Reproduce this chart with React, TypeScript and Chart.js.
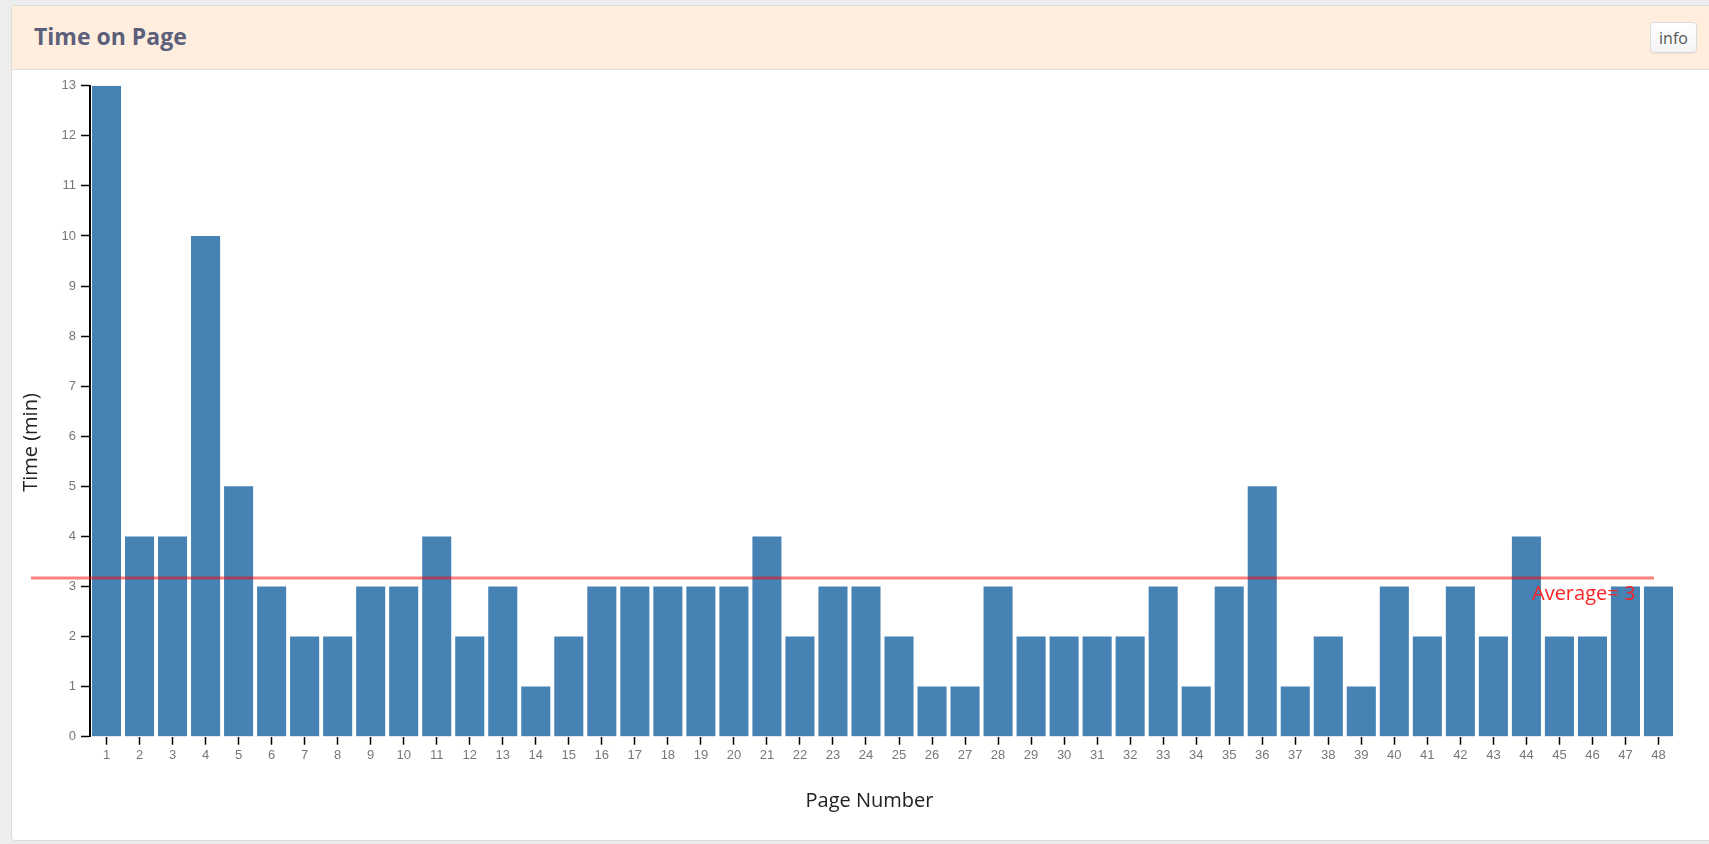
import React, { useEffect, useRef } from "react";
import { Chart, registerables } from "chart.js";

Chart.register(...registerables);

const chartTitle = "Time on Page";
const infoLabel = "info";
const xAxisTitle = "Page Number";
const yAxisTitle = "Time (min)";

const pageLabels = [
  "1", "2", "3", "4", "5", "6", "7", "8", "9", "10", "11", "12",
  "13", "14", "15", "16", "17", "18", "19", "20", "21", "22", "23", "24",
  "25", "26", "27", "28", "29", "30", "31", "32", "33", "34", "35", "36",
  "37", "38", "39", "40", "41", "42", "43", "44", "45", "46", "47", "48",
];

const timeMinutes = [
  13, 4, 4, 10, 5, 3, 2, 2, 3, 3, 4, 2,
  3, 1, 2, 3, 3, 3, 3, 3, 4, 2, 3, 3,
  2, 1, 1, 3, 2, 2, 2, 2, 3, 1, 3, 5,
  1, 2, 1, 3, 2, 3, 2, 4, 2, 2, 3, 3,
];

const yMin = 0;
const yMax = 13;
const yStep = 1;

const averageLineValue = 3.17;
const averageLabel = "Average= 3";

const W = 1709;
const H = 844;

const overlayPlugin = {
  id: "overlay",
  afterDatasetsDraw(chart: any) {
    const { ctx, chartArea, scales } = chart;
    const yy = scales.y.getPixelForValue(averageLineValue);
    ctx.save();
    // average line
    ctx.strokeStyle = "rgba(255,0,0,0.5)";
    ctx.lineWidth = 3;
    ctx.beginPath();
    ctx.moveTo(chartArea.left - 59, yy);
    ctx.lineTo(chartArea.right - 21, yy);
    ctx.stroke();
    // average label
    ctx.fillStyle = "#ff2222";
    ctx.font = '20px "Open Sans"';
    ctx.textAlign = "left";
    ctx.textBaseline = "alphabetic";
    ctx.fillText(averageLabel, chartArea.right - 143, yy + 22);
    // axis titles
    ctx.fillStyle = "#222";
    ctx.font = '20px "Open Sans"';
    ctx.textAlign = "center";
    ctx.fillText(xAxisTitle, 869.5, 807);
    ctx.translate(37, 442.5);
    ctx.rotate(-Math.PI / 2);
    ctx.fillText(yAxisTitle, 0, 0);
    ctx.restore();
  },
};

function TimeChart() {
  const ref = useRef<HTMLCanvasElement | null>(null);
  useEffect(() => {
    if (!ref.current) return;
    const tickFont = { family: '"Liberation Sans", Arial, sans-serif', size: 13 };
    const chart = new Chart(ref.current, {
      type: "bar",
      data: {
        labels: pageLabels,
        datasets: [
          {
            data: timeMinutes,
            backgroundColor: "#4682b4",
            borderWidth: 0,
            barPercentage: 0.88,
            categoryPercentage: 1,
          },
        ],
      },
      options: {
        responsive: false,
        animation: false,
        events: [],
        layout: { padding: { left: 0, right: 34, top: 85.7, bottom: 0 } },
        plugins: {
          legend: { display: false },
          tooltip: { enabled: false },
          title: { display: false },
        },
        scales: {
          x: {
            offset: true,
            grid: {
              display: true,
              offset: false,
              drawOnChartArea: false,
              tickLength: 8,
              tickColor: "#000",
              tickWidth: 1.5,
            },
            border: { display: false },
            ticks: {
              color: "#777",
              font: tickFont,
              padding: 3,
              maxRotation: 0,
              autoSkip: false,
            },
            afterFit: (s: any) => {
              s.height = 107.3;
            },
          },
          y: {
            min: yMin,
            max: yMax,
            grid: {
              display: true,
              drawOnChartArea: false,
              tickLength: 9,
              tickColor: "#000",
              tickWidth: 1.5,
            },
            border: { display: true, color: "#000", width: 2 },
            ticks: {
              stepSize: yStep,
              color: "#777",
              font: tickFont,
              padding: 5,
            },
            afterFit: (s: any) => {
              s.width = 90;
            },
          },
        },
      },
      plugins: [overlayPlugin],
    } as any);
    return () => chart.destroy();
  }, []);
  return (
    <canvas
      ref={ref}
      width={W}
      height={H}
      style={{ position: "absolute", left: 0, top: 0, width: W, height: H, display: "block" }}
    />
  );
}

export default function App() {
  return (
    <div
      style={{
        position: "absolute",
        left: 0,
        top: 0,
        width: W,
        height: H,
        overflow: "hidden",
        background: "#ededed",
        fontFamily: '"Open Sans", sans-serif',
      }}
    >
      <div
        style={{
          position: "absolute",
          left: 11,
          top: 5,
          width: W,
          height: 836,
          background: "#fff",
          border: "1px solid #dcdcdc",
          borderRadius: 4,
          boxSizing: "border-box",
          overflow: "hidden",
        }}
      >
        <div
          style={{
            position: "absolute",
            left: 0,
            top: 0,
            right: 0,
            height: 64,
            background: "#ffeede",
            borderBottom: "1px solid #e2ddd8",
            boxSizing: "border-box",
          }}
        />
      </div>
      <div
        style={{
          position: "absolute",
          left: 34,
          top: 25,
          fontSize: 23,
          lineHeight: "23px",
          fontWeight: 700,
          color: "#5b5f7a",
          whiteSpace: "nowrap",
        }}
      >
        {chartTitle}
      </div>
      <div
        style={{
          position: "absolute",
          left: 1650,
          top: 22,
          width: 47,
          height: 31,
          boxSizing: "border-box",
          border: "1px solid #dcdcdc",
          borderRadius: 4,
          background: "linear-gradient(#ffffff, #f4f4f4)",
          boxShadow: "0 1px 1px rgba(0,0,0,0.05)",
          display: "flex",
          alignItems: "center",
          justifyContent: "center",
          fontSize: 16,
          color: "#555",
        }}
      >
        {infoLabel}
      </div>
      <TimeChart />
    </div>
  );
}
